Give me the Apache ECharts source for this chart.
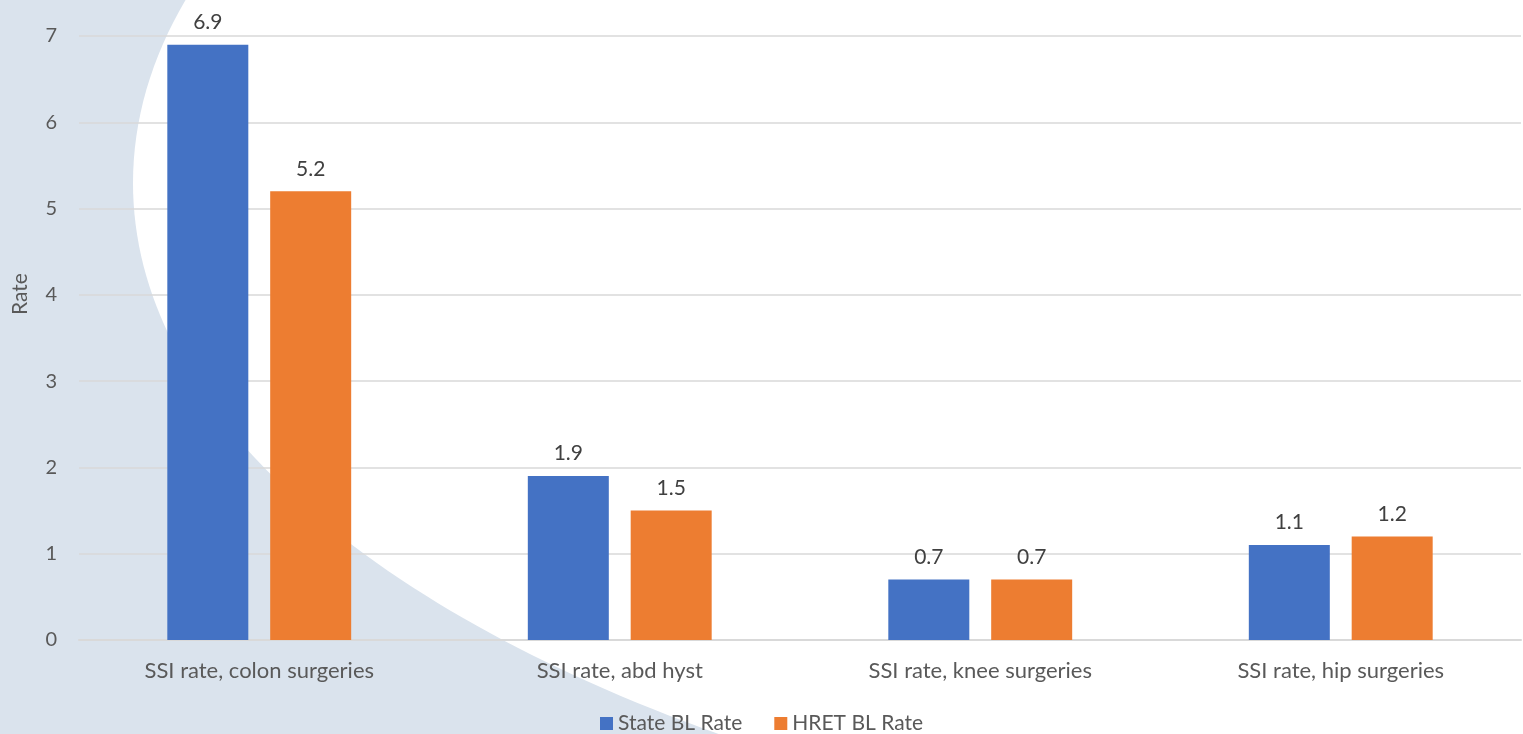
<!DOCTYPE html>
<html>
<head>
<meta charset="utf-8">
<script src="https://cdn.jsdelivr.net/npm/echarts@6/dist/echarts.min.js"></script>
<style>
html,body{margin:0;padding:0;background:#fff;}
#c{width:1523px;height:734px;}
</style>
</head>
<body>
<div id="c"></div>
<script>
const categories = ['SSI rate, colon surgeries', 'SSI rate, abd hyst', 'SSI rate, knee surgeries', 'SSI rate, hip surgeries'];
const stateBL = [6.9, 1.9, 0.7, 1.1];
const hretBL = [5.2, 1.5, 0.7, 1.2];
const seriesNames = ['State BL Rate', 'HRET BL Rate'];
const yTicks = [0, 1, 2, 3, 4, 5, 6, 7];

const FONT = 'Lato, "Open Sans", sans-serif';
const chart = echarts.init(document.getElementById('c'));
const labelStyle = {show: true, position: 'top', distance: 12, color: '#404040', fontSize: 21, fontFamily: FONT, formatter: p => p.value.toFixed(1)};
chart.setOption({
  animation: false,
  backgroundColor: '#ffffff',
  graphic: [
    {type: 'rect', z: -20, silent: true, shape: {x: 0, y: 0, width: 1523, height: 734}, style: {fill: '#dae3ed'}},
    {type: 'ellipse', z: -19, silent: true, shape: {cx: 1633, cy: 183, rx: 1500, ry: 695}, style: {fill: '#ffffff'}}
  ],
  grid: {left: 79, right: 2, top: 36, bottom: 94, containLabel: false, outerBoundsMode: 'none'},
  legend: {
    data: seriesNames, top: 708, left: 'center', itemWidth: 13, itemHeight: 13, itemGap: 32,
    icon: 'rect', padding: [5, 5, 0, 5],
    textStyle: {color: '#595959', fontSize: 21, fontFamily: FONT}
  },
  xAxis: {
    type: 'category', data: categories,
    axisLine: {show: true, lineStyle: {color: '#d9d9d9', width: 2}},
    axisTick: {show: false},
    axisLabel: {color: '#595959', fontSize: 22, fontFamily: FONT, margin: 20}
  },
  yAxis: {
    type: 'value', min: yTicks[0], max: yTicks[yTicks.length - 1], interval: 1,
    name: 'Rate', nameLocation: 'middle', nameGap: 48, nameRotate: 90,
    nameTextStyle: {color: '#595959', fontSize: 21, fontFamily: FONT, padding: [0, 0, 0, 88]},
    axisLine: {show: false}, axisTick: {show: false},
    axisLabel: {color: '#595959', fontSize: 20, fontFamily: FONT, margin: 22},
    splitLine: {lineStyle: {color: '#d9d9d9', width: 1.5}}
  },
  series: [
    {name: seriesNames[0], type: 'bar', data: stateBL, barWidth: 81, barGap: '27%', itemStyle: {color: '#4472c4'}, label: labelStyle},
    {name: seriesNames[1], type: 'bar', data: hretBL, barWidth: 81, barGap: '27%', itemStyle: {color: '#ed7d31'}, label: labelStyle}
  ]
});
</script>
</body>
</html>
